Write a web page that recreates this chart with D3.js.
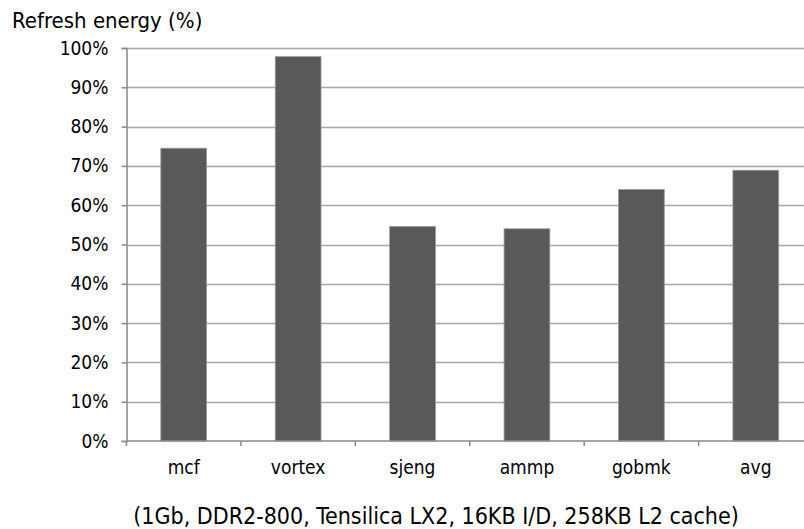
<!DOCTYPE html>
<html>
<head>
<meta charset="utf-8">
<script src="https://cdn.jsdelivr.net/npm/d3@7"></script>
<style>
  html, body { margin: 0; padding: 0; background: #fff; }
  svg { display: block; font-family: "DejaVu Sans Condensed", "DejaVu Sans", sans-serif; }
</style>
</head>
<body>
<svg id="chart" width="804" height="529"></svg>
<script>
// Benchmarks and their refresh energy (percent of baseline)
const categories = ["mcf", "vortex", "sjeng", "ammp", "gobmk", "avg"];
const refreshEnergy = [74.5, 97.8, 54.6, 54.0, 64.0, 68.9];
const yTicks = [0, 10, 20, 30, 40, 50, 60, 70, 80, 90, 100];
const yTitle = "Refresh energy (%)";
const caption = "(1Gb, DDR2-800, Tensilica LX2, 16KB I/D, 258KB L2 cache)";

const svg = d3.select("#chart");
const plotLeft = 126.5, plotRight = 813, plotTop = 48, plotBottom = 441;

const x = d3.scaleBand().domain(categories).range([plotLeft, plotRight]).padding(0);
const y = d3.scaleLinear().domain([0, 100]).range([plotBottom, plotTop]);

// horizontal gridlines
svg.append("g").selectAll("line").data(yTicks.filter(d => d > 0)).join("line")
  .attr("x1", plotLeft).attr("x2", plotRight)
  .attr("y1", d => Math.round(y(d)) + 0.5).attr("y2", d => Math.round(y(d)) + 0.5)
  .attr("stroke", "#a6a6a6").attr("stroke-width", 1.5);

// bars
const barW = x.bandwidth() * 0.4;
svg.append("g").selectAll("rect").data(categories).join("rect")
  .attr("x", d => x(d) + (x.bandwidth() - barW) / 2)
  .attr("y", (d, i) => y(refreshEnergy[i]))
  .attr("width", barW)
  .attr("height", (d, i) => plotBottom - y(refreshEnergy[i]))
  .attr("fill", "#595959")
  .attr("stroke", "#9a9a9a").attr("stroke-width", 0.8);

// y axis
const yAxis = d3.axisLeft(y).tickValues(yTicks).tickFormat(d => d + "%").tickSize(5).tickPadding(13);
const gy = svg.append("g").attr("transform", `translate(${plotLeft},0)`).call(yAxis);
gy.select(".domain").attr("stroke", "#888").attr("stroke-width", 1.5);
gy.selectAll(".tick line").attr("stroke", "#888").attr("stroke-width", 1.5);
gy.selectAll(".tick text").attr("font-size", 19).attr("fill", "#000")
  .attr("font-family", "DejaVu Sans Condensed, DejaVu Sans, sans-serif");

// x axis with ticks between categories
const gx = svg.append("g");
gx.append("line").attr("x1", plotLeft).attr("x2", plotRight)
  .attr("y1", plotBottom).attr("y2", plotBottom)
  .attr("stroke", "#888").attr("stroke-width", 1.5);
const boundaries = categories.map(c => x(c)).concat([x(categories[categories.length - 1]) + x.bandwidth()]);
gx.selectAll("line.tk").data(boundaries).join("line").attr("class", "tk")
  .attr("x1", d => d).attr("x2", d => d)
  .attr("y1", plotBottom).attr("y2", plotBottom + 5)
  .attr("stroke", "#888").attr("stroke-width", 1.5);
gx.selectAll("text").data(categories).join("text")
  .attr("x", d => x(d) + x.bandwidth() / 2)
  .attr("y", 474)
  .attr("text-anchor", "middle")
  .attr("font-size", 19)
  .text(d => d);

// axis title and caption
svg.append("text").attr("x", 12).attr("y", 28).attr("font-size", 22).text(yTitle);
svg.append("text").attr("x", 436).attr("y", 524).attr("text-anchor", "middle")
  .attr("font-size", 23).text(caption);
</script>
</body>
</html>
